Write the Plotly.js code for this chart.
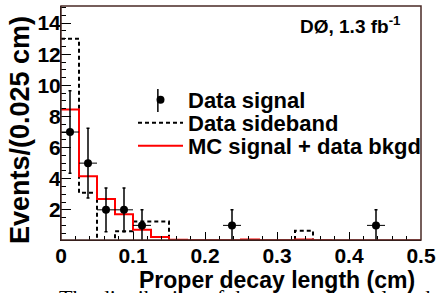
<!DOCTYPE html>
<html>
<head>
<meta charset="utf-8">
<script src="https://cdn.plot.ly/plotly-3.0.1.min.js"></script>
<style>html,body{margin:0;padding:0;background:#fff;}#chart{width:436px;height:293px;}</style>
</head>
<body>
<div id="chart"></div>
<script>
// Bin edges (cm), bin width 0.025
const binEdges = [0,0.025,0.05,0.075,0.1,0.125,0.15,0.175,0.2,0.225,0.25,0.275,0.3,0.325,0.35,0.375,0.4,0.425,0.45,0.475,0.5];
// MC signal + data background (per bin)
const mcValues = [8.45,4.15,2.7,1.72,0.72,0.25,0.08,0.04,0.04,0.04,0.1,0.04,0.04,0.1,0.04,0.03,0.03,0.03,0.03,0.03];
// Data sideband (per bin)
const sidebandValues = [13.0,3.1,0,0.62,1.25,1.25,0,0,0,0,0,0,0,0.65,0,0,0,0,0,0];
// Data signal points
const signalX = [0.0125,0.0375,0.0625,0.0875,0.1125,0.2375,0.4375];
const signalY = [7,5,2,2,1,1,1];
const signalErr = [2.65,2.24,1.41,1.41,1,1,1];
const signalXErr = [0.0125,0.0125,0.0125,0.0125,0.0125,0.0125,0.0125];
const xTickVals = [0,0.1,0.2,0.3,0.4,0.5];
const xTickText = ["0","0.1","0.2","0.3","0.4","0.5"];
const yTickVals = [2,4,6,8,10,12,14];
const yTickText = ["2","4","6","8","10","12","14"];

function stepY(v){ return v.concat([v[v.length-1]]); }

const F = "Liberation Sans, Arial, Helvetica, sans-serif";

const traces = [
  {x: binEdges, y: stepY(sidebandValues), type:'scatter', mode:'lines', line:{shape:'hv', color:'#000', width:2, dash:'4px,3px'}, name:'Data sideband', legend:'legend2'},
  {x: binEdges, y: stepY(mcValues), type:'scatter', mode:'lines', line:{shape:'hv', color:'#ff0000', width:2}, name:'MC signal + data bkgd', legend:'legend3'},
  {x: signalX, y: signalY, type:'scatter', mode:'markers', marker:{color:'#000', size:8},
   error_y:{type:'data', array:signalErr, color:'#000', thickness:1.5, width:1.5},
   error_x:{type:'data', array:signalXErr, color:'#000', thickness:1, width:0},
   name:'Data signal', legend:'legend'}
];

const legBase = {bgcolor:'rgba(0,0,0,0)', borderwidth:0, font:{family:F, size:22, color:'#000', weight:'bold'}, xanchor:'left', yanchor:'middle', tracegroupgap:0, itemwidth:45};

const layout = {
  width:436, height:293,
  margin:{l:61, r:14.5, t:6, b:53},
  paper_bgcolor:'#fff', plot_bgcolor:'#fff',
  showlegend:true,
  legend: Object.assign({}, legBase, {x:0.2, y:(240-100)/234}),
  legend2: Object.assign({}, legBase, {x:0.2, y:(240-123)/234}),
  legend3: Object.assign({}, legBase, {x:0.2, y:(240-146)/234}),
  xaxis:{range:[0,0.5], tickvals:xTickVals, ticktext:xTickText, ticks:'inside', ticklen:8, tickcolor:'#000', tickwidth:1,
    minor:{dtick:0.02, tick0:0, ticks:'inside', ticklen:4, tickcolor:'#000'},
    showline:true, linecolor:'#000', linewidth:1, showgrid:false, zeroline:false, ticklabelstandoff:-3,
    tickfont:{family:F, size:21, color:'#000', weight:'bold'}},
  yaxis:{range:[0.06,15.1], tickvals:yTickVals, ticktext:yTickText, ticks:'inside', ticklen:10, tickcolor:'#000', tickwidth:1,
    minor:{dtick:0.5, tick0:0, ticks:'inside', ticklen:5, tickcolor:'#000'},
    showline:true, linecolor:'#000', linewidth:1, showgrid:false, zeroline:false, ticklabelstandoff:-5,
    tickfont:{family:F, size:21, color:'#000', weight:'bold'}},
  shapes:[
    {type:'rect', xref:'paper', yref:'paper', x0:0, x1:1, y0:0, y1:1, line:{color:'#4a2a26', width:1.5}, layer:'above'},
    {type:'line', xref:'paper', yref:'paper', x0:(158-61)/360.5, x1:(158-61)/360.5, y0:(240-112)/234, y1:(240-89)/234, line:{color:'#000', width:1.5}}
  ],
  annotations:[
    {text:'<b>Proper decay length (cm)</b>', xref:'paper', yref:'paper', x:0.99, y:(240-265)/234, xanchor:'right', yanchor:'top', showarrow:false, font:{family:F, size:23, color:'#000'}},
    {text:'<b>Events/(0.025 cm)</b>', xref:'paper', yref:'paper', x:(20-61)/360.5, y:(240-14)/234, xanchor:'center', yanchor:'top', textangle:-90, showarrow:false, font:{family:F, size:27, color:'#000'}},
    {text:'<b>DØ, 1.3 fb<sup>-1</sup></b>', xref:'paper', yref:'paper', x:0.95, y:(240-25)/234, xanchor:'right', yanchor:'middle', showarrow:false, font:{family:F, size:19, color:'#000'}},
    {text:'The distribution of the proper decay length and', xref:'paper', yref:'paper', x:-0.01, y:(240-283)/234, xanchor:'left', yanchor:'top', showarrow:false, font:{family:'Liberation Serif, Times New Roman, serif', size:22, color:'#000'}}
  ]
};

Plotly.newPlot('chart', traces, layout, {displayModeBar:false, staticPlot:true});
</script>
</body>
</html>
